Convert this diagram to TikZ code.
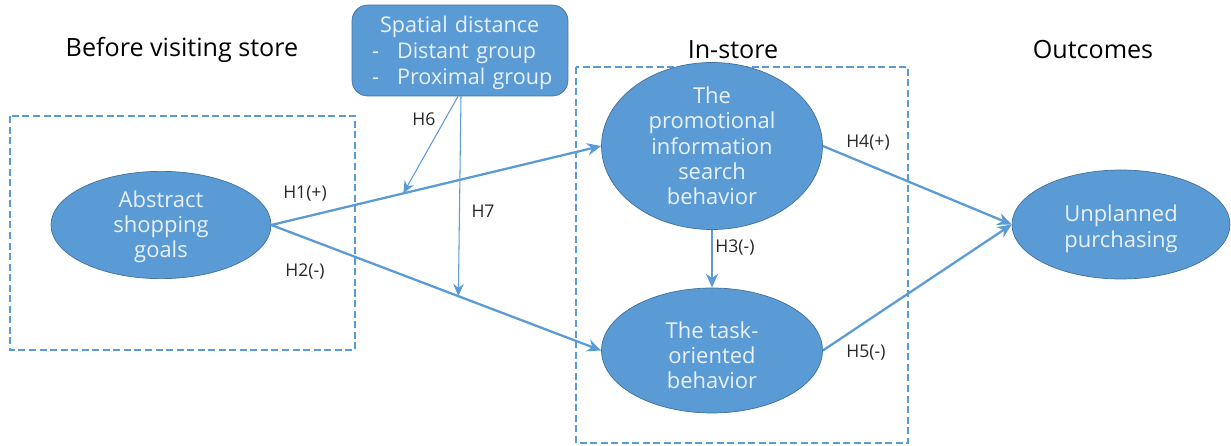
\documentclass[tikz,border=0pt]{standalone}
\usepackage{fontspec}
\setmainfont{Open Sans}
\usepackage{tikz}
\usetikzlibrary{shapes.geometric}
\usetikzlibrary{arrows.meta}
\usetikzlibrary{calc}

\definecolor{boxblue}{RGB}{91,155,213}
\definecolor{rimblue}{RGB}{65,113,156}
\definecolor{paleblue}{RGB}{232,241,250}
\definecolor{labelgray}{RGB}{40,40,40}

\tikzset{
    construct/.style={ellipse, draw=rimblue, fill=boxblue, text=paleblue, inner sep=0pt,
        align=center, font=\fontsize{12.5}{14.4}\selectfont},
    stage/.style={draw=boxblue, line width=1.1pt, dash pattern=on 4pt off 2pt},
    path/.style={draw=boxblue, line width=1.3pt, -{Stealth[length=8pt,width=7pt]}},
    moderator/.style={draw=boxblue, line width=0.6pt, -{Stealth[length=7pt,width=6pt]}},
    hypo/.style={text=labelgray, font=\fontsize{10}{12}\selectfont},
    heading/.style={font=\fontsize{14.3}{16}\selectfont},
}

\begin{document}
\begin{tikzpicture}[x=0.02cm, y=-0.02cm]
            % Page frame
            \useasboundingbox (0,0) rectangle (1231,446);

            % Stage frames
            \draw [stage] (10,116) rectangle (355,350);
            \draw [stage] (576,67) rectangle (908,443);

            % Stage titles
            \node (before) at (182,50) [heading] {Before visiting store};
            \node (instore) at (733,50) [heading] {In-store};
            \node (outcomes) at (1093,50) [heading] {Outcomes};

            % Moderator box
            \node (dist) at (460,50.5) [draw=rimblue, fill=boxblue, text=paleblue, rounded corners=9pt,
                inner sep=0pt, text width=4.32cm, minimum height=1.82cm, align=left,
                font=\fontsize{12.3}{14.8}\selectfont]
                {\rule{0pt}{0.43cm}\hspace*{0.56cm}Spatial distance\\
                 \hspace*{0.4cm}\makebox[0.5cm][l]{-}Distant group\\
                 \hspace*{0.4cm}\makebox[0.5cm][l]{-}Proximal group};

            % Constructs
            \node (goals) at (161,225) [construct, minimum width=4.4cm, minimum height=1.72cm]
                {\rule{0pt}{0.4cm}Abstract\\shopping\\goals};
            \node (search) at (712,146) [construct, minimum width=4.42cm, minimum height=2.64cm]
                {The\\promotional\\information\\search\\behavior};
            \node (task) at (712,350.5) [construct, minimum width=4.42cm, minimum height=2.5cm]
                {\rule{0pt}{0.52cm}The task-\\oriented\\behavior};
            \node (unplanned) at (1121,224.5) [construct, minimum width=4.36cm, minimum height=2.18cm]
                {\rule{0pt}{0.5cm}Unplanned\\purchasing};

            % Direct paths
            \draw [path] (goals.east) -- (search.west);
            \draw [path] (goals.east) -- (task.west);
            \draw [path] (search.south) -- (task.north);
            \draw [path] (search.east) -- (unplanned.west);
            \draw [path] (task.east) -- (unplanned.west);

            % Moderating paths
            \coordinate (h6end) at ($(goals.east)!0.4!(search.west)$);
            \coordinate (h7end) at ($(goals.east)!0.567!(task.west)$);
            \draw [moderator] ([xshift=-0.04cm]dist.south) -- (h6end);
            \draw [moderator] ([xshift=0.02cm]dist.south) -- (h7end);

            % Hypotheses
            \node (h1) at (305,194) [hypo] {H1(+)};
            \node (h2) at (305,272) [hypo] {H2(-)};
            \node (h3) at (735,248) [hypo] {H3(-)};
            \node (h4) at (868,143) [hypo] {H4(+)};
            \node (h5) at (866,353) [hypo] {H5(-)};
            \node (h6) at (424,119) [hypo] {H6};
            \node (h7) at (483,211) [hypo] {H7};
        \end{tikzpicture}
\end{document}
